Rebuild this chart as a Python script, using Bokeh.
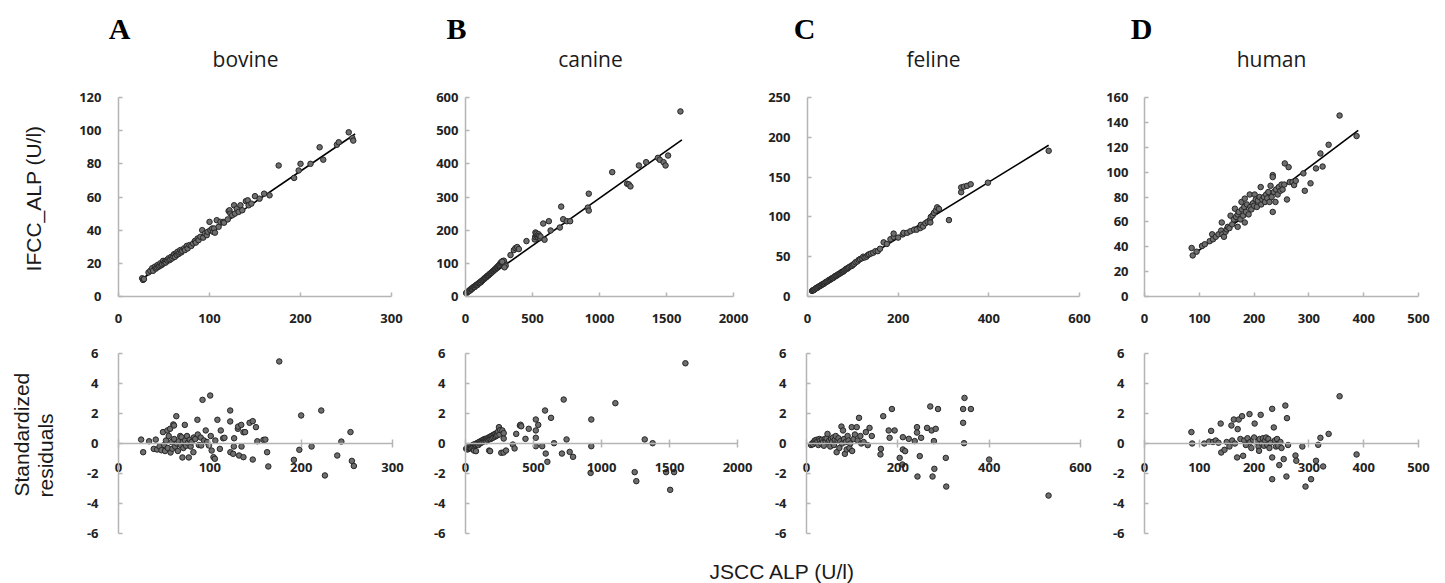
import math
from bokeh.plotting import figure
from bokeh.models import LinearAxis, FixedTicker, Range1d, Label
from bokeh.layouts import column, row
from bokeh.embed import file_html
from bokeh.resources import INLINE

# ---------------- data ----------------
species = ["bovine", "canine", "feline", "human"]
letters = ["A", "B", "C", "D"]

bovine_pts = [(26, 11), (27, 10), (28, 10.5), (33, 14.5), (35, 15.5), (37, 17), (38, 15.5), (40, 18), (41, 16.8),
              (42, 17.5), (43, 19), (44, 17.9), (45, 18.5), (46, 20), (47, 18.8), (48, 19.5), (49, 21.5), (50, 20),
              (51, 21), (52, 20.5), (53, 22), (54, 21.6), (55, 23), (56, 21.9), (57, 22.5), (58, 24), (59, 23),
              (60, 24.2), (61, 25.5), (62, 23.9), (63, 26), (64, 25), (65, 27), (66, 25.6), (67, 26.5), (68, 28),
              (69, 26.6), (70, 27.5), (72, 29), (73, 28), (75, 30.5), (76, 29), (78, 31), (80, 30.5), (82, 32),
              (84, 33.5), (85, 32.5), (87, 35), (88, 34), (90, 36), (92, 40), (93, 35.5), (95, 38), (97, 37),
              (98, 39), (100, 45), (101, 40), (103, 41), (104, 39), (105, 41), (106, 38.5), (108, 46), (110, 42),
              (112, 45), (115, 45), (116, 44.5), (120, 46.5), (121, 51.5), (122, 52), (123, 50), (125, 49),
              (127, 55), (128, 50), (130, 53), (132, 51), (134, 55), (136, 52), (140, 57.5), (142, 58), (143, 55),
              (146, 56), (150, 60.5), (155, 59), (160, 62), (166, 61), (176, 79), (193, 71.5), (198, 76), (200, 80),
              (211, 80), (221, 90), (225, 82.5), (240, 91.5), (242, 93), (253, 99), (257, 95.5), (258, 94)]
bovine_fit_x = [26, 260]
bovine_fit_y = [10.7, 98]
bovine_resid = [(24.8, 0.26), (27, -0.58), (33.5, 0.15), (38.6, -0.36), (40.8, 0.26), (42.3, -0.4), (45, -0.2),
                (47, -0.45), (48.7, 0.76), (50, -0.1), (51, -0.5), (52, 0.2), (53.5, 0.87), (54, -0.3), (55, 0.5),
                (56.5, 0.98), (57, -0.6), (58, 0.1), (59, -0.35), (60, 1.27), (60.8, 1.2), (61, 0.3), (62, -0.2),
                (63.3, 1.82), (64, 0.0), (65, -0.5), (66, 0.15), (67.6, 0.5), (68, -0.1), (69, 0.42), (70, -0.93),
                (70.5, 0.1), (71, -0.3), (72.6, 1.24), (73, 0.2), (74, -0.15), (75, 0.5), (76, 0.05), (77, -0.93),
                (78, 0.25), (79, -0.2), (80, 0.1), (82, -0.58), (82.4, 0.4), (84, 0.3), (86.4, 1.58), (86.8, 0.6),
                (88, -0.1), (90, 0.4), (90.5, -0.13), (92, 2.91), (93.6, 0.2), (95.5, 0.87), (97, 0.1), (99, -0.13),
                (100.4, 3.2), (101, 0.5), (102, -0.47), (104, -0.91), (105.5, -1.02), (106, 0.2), (108.3, 1.58),
                (111, -0.36), (112, 0.87), (114.6, 0.35), (116, 0.38), (122.3, 2.2), (122.3, 1.47), (122.5, -0.58),
                (125.6, -0.69), (126.3, -0.2), (126.6, 0.35), (130.7, 0.98), (131, 1.13), (132, -0.8), (134.4, 1.24),
                (134.7, -0.2), (136.8, 0.75), (136.8, -0.91), (138.6, 0.76), (143.5, 1.38), (147, 1.49),
                (147, -1.07), (150.5, 1.09), (152, 0.15), (158.7, 0.24), (160.8, 0.26), (162.7, -0.58), (164, -1.53),
                (176, 5.47), (192, -1.09), (198, -0.42), (200, 1.87), (211.4, -0.2), (222, 2.2), (226, -2.13),
                (239.5, -0.8), (244, 0.13), (254, 0.76), (255.5, -1.16), (257.7, -1.5)]

canine_pts = [(5, 10), (8, 12), (10, 11), (15, 14), (20, 15), (25, 16), (30, 19), (35, 18), (40, 22), (45, 24),
              (50, 23), (55, 27), (60, 28), (65, 30), (70, 29), (75, 33), (80, 34), (85, 36), (90, 35), (95, 39),
              (100, 40), (105, 41), (110, 44), (115, 43), (120, 47), (125, 48), (130, 50), (135, 52), (140, 53),
              (145, 56), (150, 57), (155, 58), (160, 61), (165, 62), (170, 64), (175, 65), (180, 68), (185, 69),
              (190, 71), (195, 72), (200, 75), (205, 76), (210, 78), (215, 80), (220, 82), (225, 83), (230, 86),
              (235, 88), (240, 90), (245, 92), (250, 94), (255, 96), (260, 100), (265, 102), (270, 104), (275, 106),
              (280, 105), (290, 103), (300, 93), (286, 108), (274, 105), (291, 88), (336, 125), (361, 140),
              (373, 146), (386, 149), (398, 143), (455, 167), (517, 172), (520, 180), (522, 193), (527, 185),
              (530, 190), (535, 183), (540, 178), (545, 188), (550, 183), (555, 176), (560, 181), (590, 171),
              (580, 220), (622, 227), (635, 199), (704, 208), (714, 271), (729, 233), (756, 227), (781, 227),
              (913, 268), (920, 310), (920, 259), (1095, 375), (1206, 340), (1219, 338), (1231, 332), (1294, 395),
              (1348, 405), (1436, 418), (1450, 412), (1478, 405), (1493, 395), (1512, 425), (1604, 558)]
canine_fit_x = [5, 1615]
canine_fit_y = [12, 472]
canine_resid = [(5, -0.35), (10, -0.3), (15, -0.4), (20, -0.25), (25, -0.35), (30, -0.3), (35, -0.2), (40, -0.3),
                (45, -0.15), (50, -0.25), (55, -0.1), (60, -0.2), (62, -0.47), (65, -0.05), (70, -0.15), (75, -0.1),
                (77, -0.51), (80, 0.0), (85, -0.05), (90, 0.05), (95, -0.1), (100, 0.1), (105, 0.0), (110, 0.15),
                (115, 0.05), (120, 0.2), (125, 0.1), (130, 0.25), (135, 0.15), (140, 0.3), (145, 0.2), (150, 0.3),
                (155, 0.15), (160, 0.35), (165, 0.25), (170, 0.4), (174, -0.47), (175, 0.3), (180, 0.45),
                (181, -0.51), (185, 0.3), (190, 0.5), (195, 0.35), (200, 0.55), (205, 0.4), (210, 0.6), (215, 0.45),
                (220, 0.65), (225, 0.5), (230, 0.7), (235, 0.55), (240, 0.8), (246, 1.09), (250, 0.6), (255, 0.9),
                (263, -0.62), (271, 0.87), (280, -0.6), (281, 0.69), (281, 0.33), (298, -0.47), (348, -0.07),
                (361, -0.33), (373, 0.64), (400, 1.2), (405, 1.25), (410, 1.15), (441, 0.31), (465, 0.98),
                (517, 1.6), (517, 0.87), (517, 0.38), (517, -0.18), (535, 1.24), (564, -0.18), (585, 2.2),
                (590, -0.67), (602, -1.22), (629, 1.71), (651, 0.02), (709, -0.67), (722, 2.93), (743, 0.27),
                (766, -0.56), (791, -0.89), (920, -1.96), (925, 1.6), (925, -0.18), (1102, 2.69), (1244, -1.91),
                (1256, -2.51), (1318, 0.27), (1376, 0.02), (1475, -1.91), (1505, -3.09), (1534, -1.91),
                (1617, 5.35)]

feline_pts = [(10, 7), (12, 8), (14, 8), (16, 9), (18, 10), (20, 11), (22, 11), (24, 12), (26, 13), (28, 13.5),
              (30, 14), (32, 15), (34, 15.5), (36, 16), (38, 17), (40, 18), (42, 18.5), (44, 19), (46, 20), (48, 21),
              (50, 21), (52, 22), (54, 23), (56, 23), (58, 24), (60, 25), (62, 26), (64, 26), (66, 27), (68, 28),
              (70, 28.5), (72, 29), (74, 30), (76, 31), (78, 31), (80, 32), (82, 33), (84, 34), (86, 35), (88, 35),
              (90, 36), (92, 37), (95, 38), (98, 38.5), (100, 40), (103, 41), (106, 43), (110, 44), (113, 46),
              (116, 47), (120, 48), (123, 50), (126, 49), (130, 50), (133, 52), (136, 53), (140, 54), (145, 55),
              (150, 57), (155, 57), (160, 60), (168, 68), (175, 66), (183, 72), (190, 75), (190, 79), (200, 74),
              (210, 78), (212, 80), (220, 80), (227, 82), (235, 84), (241, 84), (249, 86), (250, 90), (255, 88),
              (260, 92), (265, 94), (270, 96), (271, 93), (272, 100), (276, 102), (279, 105), (283, 108),
              (286, 112), (290, 110), (312, 96), (339, 131), (339, 137), (345, 138), (352, 139), (360, 141),
              (398, 143), (532, 183)]
feline_fit_x = [10, 532]
feline_fit_y = [7, 190]
feline_resid = [(10, -0.1), (12, 0.0), (14, -0.05), (16, 0.1), (18, 0.2), (20, 0.05), (22, 0.25), (24, 0.15),
                (26, -0.1), (28, 0.3), (30, 0.2), (32, 0.0), (34, 0.25), (36, 0.1), (38, -0.15), (40, 0.3),
                (42, 0.15), (44, 0.35), (46, 0.64), (48, 0.1), (50, 0.2), (52, -0.2), (54, 0.3), (56, 0.1),
                (58, 0.4), (60, -0.1), (62, 0.25), (64, 0.5), (66, -0.58), (68, 0.2), (70, 0.35), (72, -0.3),
                (74, 0.15), (76.5, 1.13), (78, 0.0), (80, 0.87), (82, 0.3), (84, -0.69), (86, 0.1), (88, -0.4),
                (90, 0.5), (92, 0.2), (94, -0.3), (96, 0.0), (99, 1.09), (100, -0.5), (103, 0.3), (106, 0.6),
                (110, 1.09), (112, 0.2), (115, 1.71), (118, 0.5), (120, 0.0), (125, 0.1), (130, 0.76), (134, -0.11),
                (138, 1.04), (143, 0.5), (162, -0.73), (163, -0.36), (168, 1.82), (180, 0.87), (182, 0.38),
                (187, 2.3), (193, 0.87), (204, -0.96), (210, -1.4), (211, 0.42), (211, -0.4), (216, -0.51),
                (224, 0.31), (237, 0.16), (242, 1.09), (242, 0.73), (243, -2.2), (248, -0.84), (251, 0.38),
                (264, 1.04), (271, 2.47), (274, 0.87), (276, -2.2), (279, 0.16), (280, -1.69), (283, 0.98),
                (288, 2.3), (305, -0.96), (306, -2.87), (343, 2.3), (343, 1.38), (345, 0.02), (346, 3.04),
                (360, 2.3), (400, -1.07), (530, -3.47)]

human_pts = [(86, 39), (88, 33), (95, 36), (105, 40.6), (110, 42), (119, 44.5), (123.5, 50), (125, 46), (130, 48),
             (135, 50), (140, 53), (141, 59.5), (142, 50), (145, 48), (148, 52), (150, 54), (152, 56), (155, 55),
             (157, 65), (160, 58), (163, 62), (165, 70.6), (167, 64), (170, 56), (170, 66), (172, 68), (175, 62),
             (177, 76), (178, 70), (180, 65), (182, 72), (183, 78.7), (183, 59.5), (185, 68), (187, 74), (190, 66),
             (192, 82), (193, 72), (195, 70), (198, 75), (200, 73), (201, 82), (203, 78), (205, 72), (207, 77),
             (210, 80), (212, 88), (213, 74), (215, 78), (218, 80), (220, 76), (222, 82), (224, 79), (226, 84),
             (228, 76), (230, 89), (232, 80), (234, 97.6), (234, 96), (234, 68), (236, 84), (239, 76), (240, 86),
             (243, 82), (245, 88), (248, 85), (250, 90), (252, 86), (255, 90), (256, 107), (260, 78), (263, 104),
             (265, 92), (270, 92), (273, 89.6), (276, 93), (290, 99), (292.5, 85), (303, 91), (313, 103), (321, 115),
             (325, 104.5), (336, 122), (356, 145.5), (387, 129)]
human_fit_x = [87, 390]
human_fit_y = [33, 133.5]
human_resid = [(85.6, 0.76), (87, 0.0), (109, 0.0), (118, 0.13), (121.6, 0.84), (125, 0.1), (130, 0.2), (135, 0.05),
               (139, 1.33), (140, -0.6), (146, -0.42), (150, 0.1), (155, -0.2), (158.6, 1.2), (160, 0.2), (163, 1.6),
               (165, 0.0), (169, -0.93), (170, 0.96), (172, 1.6), (175, 0.3), (178, 1.82), (180, -0.82), (182, 0.2),
               (185, -0.1), (188, 0.35), (191.6, 1.96), (193, 0.1), (195, -0.3), (198, 0.25), (200, 0.4),
               (201, 1.33), (205, 0.1), (208, -0.2), (209, -0.49), (210, 0.3), (212, 1.91), (214, 0.0), (216, 0.35),
               (218, -0.15), (220, 0.2), (222, 0.4), (224, -0.1), (226, 0.3), (228, -0.3), (230, 0.05), (233, 2.31),
               (233, -0.93), (233, -2.38), (236, 1.07), (238, 0.2), (240, -0.2), (242, 0.3), (244, -0.15),
               (246, -1.44), (248, 0.1), (250, -0.3), (254, -1.04), (257, 2.53), (259, -2.2), (260, 1.69),
               (262, -0.1), (275.5, -0.8), (277, -1.15), (288, -0.2), (293.8, -2.87), (304, -2.38), (313, -1.15),
               (317, -0.09), (321, 0.38), (326, -1.53), (336, 0.64), (356, 3.15), (387, -0.73)]

x_max = [300, 2000, 600, 500]
y_max = [120, 600, 250, 160]
x_ticks = [[0, 100, 200, 300], [0, 500, 1000, 1500, 2000], [0, 200, 400, 600], [0, 100, 200, 300, 400, 500]]
y_ticks = [[0, 20, 40, 60, 80, 100, 120], [0, 100, 200, 300, 400, 500, 600], [0, 50, 100, 150, 200, 250],
           [0, 20, 40, 60, 80, 100, 120, 140, 160]]
resid_min, resid_max = -6, 6
resid_ticks = [-6, -4, -2, 0, 2, 4, 6]
resid_tick_labels = ["-6", "-4", "-2", "0", "2", "4", "6"]

y_title_top = "IFCC_ALP (U/l)"
y_title_bottom = ["Standardized", "residuals"]
x_title = "JSCC ALP (U/l)"

# ---------------- layout (page pixels) ----------------
W, H = 1445, 583
col_edges = [0, 420, 757, 1100, 1445]
top_rows = (0, 337)          # figure top/bottom
bot_rows = (337, 550)
foot_rows = (550, 583)
top_px_x = [(118, 391), (465, 733), (807, 1079), (1144, 1418)]   # pixel of x=0 / x=max
bot_px_x = [(118, 392), (465, 737), (806, 1080), (1144, 1418)]
top_px_y = (296, 97)         # pixel of y=0 / y=max
bot_px_y = (533, 353)        # pixel of -6 / 6
ylab_gap_top = [17, 7, 17, 16]
letter_cx = [119, 456, 804, 1141]
title_cx = [245, 590, 933, 1271]

AXIS_COLOR = "#b5b5b5"
TICK_FONT = "Open Sans"
TEXT_FONT = "Liberation Sans"
PT_FILL = "#6e6e6e"
PT_LINE = "#262626"


def range_x(c0, c1, p0, p1, v0, v1):
    s = (v1 - v0) / (p1 - p0)
    return Range1d(v0 - (p0 - c0) * s, v1 + (c1 - p1) * s)


def range_y(r0, r1, p0, p1, v0, v1):
    # p0: pixel of v0 (lower), p1: pixel of v1 (upper); r0 top, r1 bottom of figure
    s = (v1 - v0) / (p0 - p1)
    return Range1d(v0 - (r1 - p0) * s, v1 + (p1 - r0) * s)


def style_axis(ax, tick_in, tick_out, standoff):
    ax.axis_line_color = AXIS_COLOR
    ax.axis_line_width = 1.5
    ax.major_tick_line_color = AXIS_COLOR
    ax.major_tick_line_width = 1.5
    ax.major_tick_in = tick_in
    ax.major_tick_out = tick_out
    ax.minor_tick_line_color = None
    ax.major_label_text_font = TICK_FONT
    ax.major_label_text_font_size = "13px"
    ax.major_label_text_font_style = "bold"
    ax.major_label_text_color = "#222222"
    ax.major_label_standoff = standoff


def add_label(p, rows, col0, x, y, text, font, size, style="normal", align="center", baseline="alphabetic",
              angle=0.0, color="#1a1a1a"):
    # x, y given in page pixels; converted to the figure's screen units (from bottom-left)
    p.add_layout(Label(x=x - col0, y=rows[1] - y, x_units="screen", y_units="screen", text=text,
                       text_font=font, text_font_size=size, text_font_style=style, text_align=align,
                       text_baseline=baseline, angle=angle, text_color=color))


def base_fig(w, h, xr, yr):
    p = figure(width=w, height=h, x_range=xr, y_range=yr, x_axis_type=None, y_axis_type=None,
               toolbar_location=None, output_backend="svg", title=None, min_border=0)
    p.outline_line_color = None
    p.background_fill_color = "white"
    p.border_fill_color = "white"
    return p


def top_panel(i, pts, fx, fy):
    c0, c1 = col_edges[i], col_edges[i + 1]
    xr = range_x(c0, c1, top_px_x[i][0], top_px_x[i][1], 0, x_max[i])
    yr = range_y(top_rows[0], top_rows[1], top_px_y[0], top_px_y[1], 0, y_max[i])
    p = base_fig(c1 - c0, top_rows[1] - top_rows[0], xr, yr)
    xa = LinearAxis(ticker=FixedTicker(ticks=x_ticks[i]), fixed_location=0, bounds=(0, x_max[i]))
    style_axis(xa, 4, 0, 17)
    p.add_layout(xa, "below")
    ya = LinearAxis(ticker=FixedTicker(ticks=y_ticks[i]), fixed_location=0, bounds=(0, y_max[i]))
    style_axis(ya, 4, 0, ylab_gap_top[i])
    p.add_layout(ya, "left")
    p.line(fx, fy, line_color="black", line_width=1.6)
    p.scatter([a for a, b in pts], [b for a, b in pts], size=5.5, fill_color=PT_FILL,
              line_color=PT_LINE, line_width=1)
    add_label(p, top_rows, c0, letter_cx[i], 28, letters[i], "Liberation Serif", "30px", style="bold",
              color="black")
    add_label(p, top_rows, c0, title_cx[i], 58, species[i], "Open Sans", "21px")
    if i == 0:
        add_label(p, top_rows, c0, 33, 198, y_title_top, TEXT_FONT, "21px", baseline="middle",
                  angle=math.pi / 2)
    return p


def bottom_panel(i, pts):
    c0, c1 = col_edges[i], col_edges[i + 1]
    xr = range_x(c0, c1, bot_px_x[i][0], bot_px_x[i][1], 0, x_max[i])
    yr = range_y(bot_rows[0], bot_rows[1], bot_px_y[0], bot_px_y[1], resid_min, resid_max)
    p = base_fig(c1 - c0, bot_rows[1] - bot_rows[0], xr, yr)
    xa = LinearAxis(ticker=FixedTicker(ticks=x_ticks[i]), fixed_location=0, bounds=(0, x_max[i]))
    style_axis(xa, 4, 4, 15)
    p.add_layout(xa, "below")
    ya = LinearAxis(ticker=FixedTicker(ticks=resid_ticks), fixed_location=0, bounds=(resid_min, resid_max))
    style_axis(ya, 4, 0, 20)
    ya.major_label_overrides = {t: s for t, s in zip(resid_ticks, resid_tick_labels)}
    p.add_layout(ya, "left")
    p.scatter([a for a, b in pts], [b for a, b in pts], size=5.5, fill_color=PT_FILL,
              line_color=PT_LINE, line_width=1)
    if i == 0:
        add_label(p, bot_rows, c0, 21, 496, y_title_bottom[0], TEXT_FONT, "21px", align="left",
                  angle=math.pi / 2)
        add_label(p, bot_rows, c0, 45, 497, y_title_bottom[1], TEXT_FONT, "21px", align="left",
                  angle=math.pi / 2)
    return p


tops = [top_panel(0, bovine_pts, bovine_fit_x, bovine_fit_y),
        top_panel(1, canine_pts, canine_fit_x, canine_fit_y),
        top_panel(2, feline_pts, feline_fit_x, feline_fit_y),
        top_panel(3, human_pts, human_fit_x, human_fit_y)]
bottoms = [bottom_panel(0, bovine_resid), bottom_panel(1, canine_resid),
           bottom_panel(2, feline_resid), bottom_panel(3, human_resid)]

foot = base_fig(W, foot_rows[1] - foot_rows[0], Range1d(0, 1), Range1d(0, 1))
add_label(foot, foot_rows, 0, 782, 571, x_title, TEXT_FONT, "21px")

layout = column(row(*tops), row(*bottoms), foot)

open("out.html", "w").write(file_html(layout, INLINE))
